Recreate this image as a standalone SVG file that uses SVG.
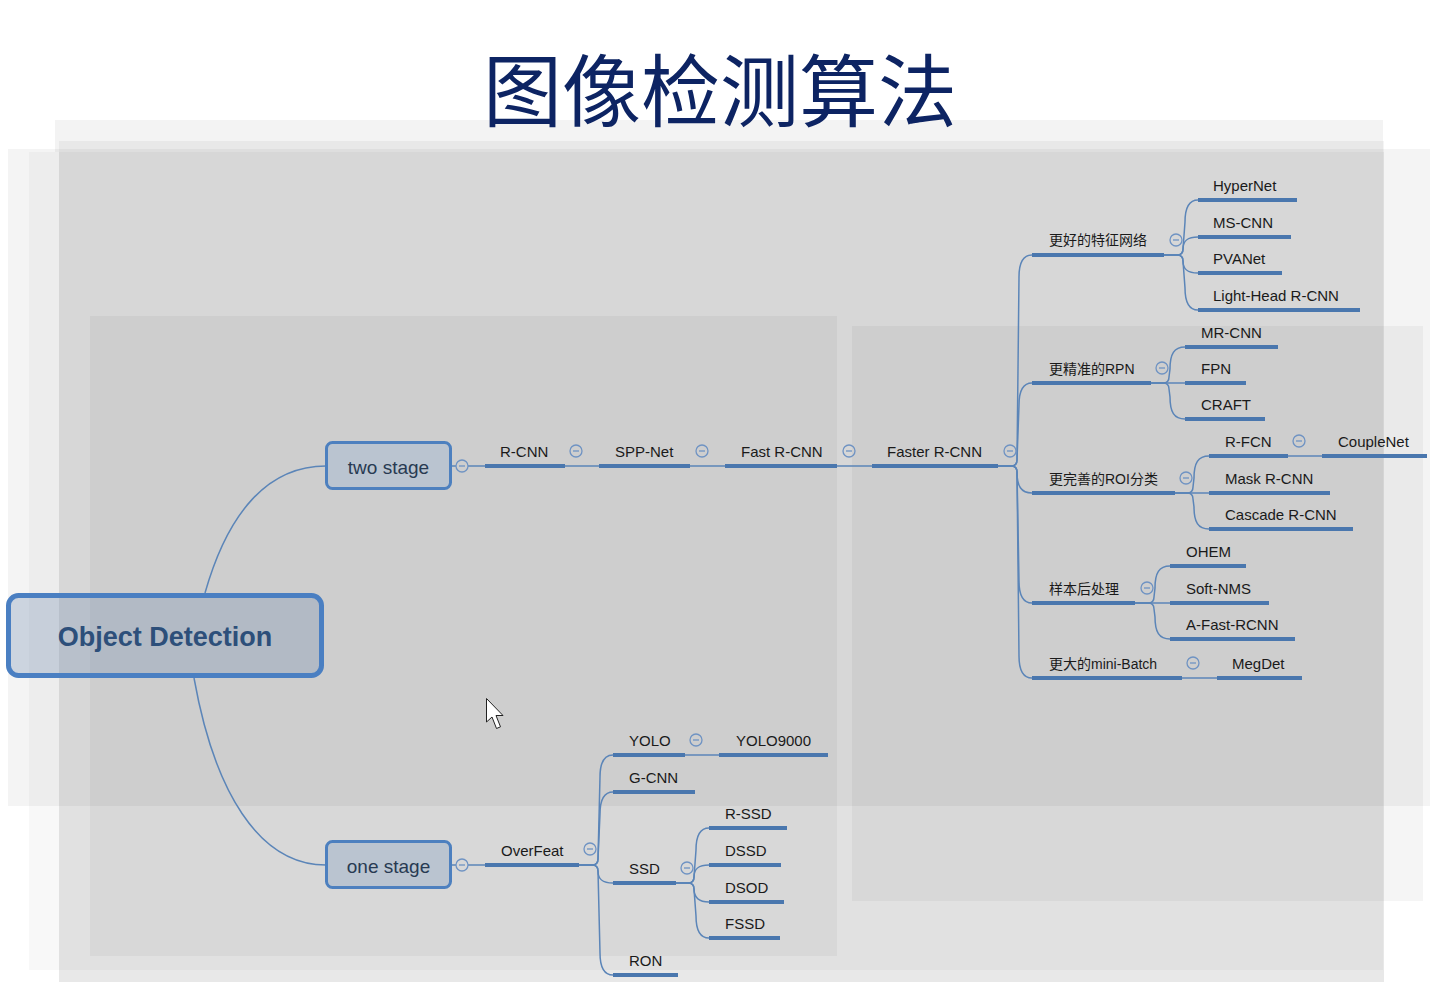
<svg xmlns="http://www.w3.org/2000/svg" width="1430" height="982" viewBox="0 0 1430 982">
<style>
.lbl{font-family:"Liberation Sans","Noto Sans CJK SC",sans-serif;font-size:15px;fill:#1a1a1a}
.cjk{font-size:14px}
.ul{stroke:#4a77ae;stroke-width:4;fill:none}
.ln{stroke:#5b85b8;stroke-width:1.5;fill:none}
.cb circle{fill:none;stroke:#6f93c3;stroke-width:1.3}
.cb line{stroke:#6f93c3;stroke-width:1.3}
.box{stroke:#4d80bf;stroke-width:3;fill:#bac4d0}
.boxt{font-family:"Liberation Sans","Noto Sans",sans-serif;font-size:19px;fill:#283a52}
.bg{fill:#000}
</style>
<rect width="1430" height="982" fill="#ffffff"/>
<g id="background">
<rect class="bg" x="55" y="120" width="1328" height="32" fill-opacity="0.047"/>
<rect class="bg" x="59" y="141" width="1325" height="11" fill-opacity="0.045"/>
<rect class="bg" x="59" y="152" width="1325" height="830" fill-opacity="0.09"/>
<rect class="bg" x="8" y="149" width="1422" height="657" fill-opacity="0.042"/>
<rect class="bg" x="29" y="152" width="1354" height="818" fill-opacity="0.026"/>
<rect class="bg" x="90" y="316" width="747" height="640" fill-opacity="0.04"/>
<rect class="bg" x="852" y="326" width="571" height="575" fill-opacity="0.04"/>
</g>
<text id="title" x="720" y="121" text-anchor="middle" font-family="Noto Sans CJK SC, sans-serif" font-size="79" fill="#0d2463">图像检测算法</text>
<g id="connectors">
<path class="ln" d="M205,593 C228,512 268,466 326,466"/>
<path class="ln" d="M194,678 C214,790 258,865 326,865"/>
<path class="ln" d="M452,466 L456,466 M468,466 L485,466"/>
<path class="ln" d="M565,466 L599,466 M690,466 L725,466 M837,466 L872,466"/>
<path class="ln" d="M998,466 H1011 Q1017,466 1017,460 L1019,277 C1019,262.7 1022.9,255 1032,255"/>
<path class="ln" d="M998,466 H1011 Q1017,466 1017,460 L1019,405 C1019,390.7 1022.9,383 1032,383"/>
<path class="ln" d="M998,466 H1011 Q1017,466 1017,472 C1017,486 1021,493 1032,493"/>
<path class="ln" d="M998,466 H1011 Q1017,466 1017,472 L1019,581 C1019,595.3 1022.9,603 1032,603"/>
<path class="ln" d="M998,466 H1011 Q1017,466 1017,472 L1019,656 C1019,670.3 1022.9,678 1032,678"/>
<path class="ln" d="M1164,255 H1177 Q1183,255 1183,249 L1185,222 C1185,207.7 1189,200 1198,200"/>
<path class="ln" d="M1164,255 H1177 Q1183,255 1183,249 C1183,241 1187,237 1198,237"/>
<path class="ln" d="M1164,255 H1177 Q1183,255 1183,261 C1183,269 1187,273 1198,273"/>
<path class="ln" d="M1164,255 H1177 Q1183,255 1183,261 L1185,288 C1185,302.3 1189,310 1198,310"/>
<path class="ln" d="M1151,383 H1163 Q1169,383 1169,377 L1170,369 C1170,354 1174,347 1185,347"/>
<path class="ln" d="M1151,383 L1185,383"/>
<path class="ln" d="M1151,383 H1163 Q1169,383 1169,389 L1170,397 C1170,412 1174,419 1185,419"/>
<path class="ln" d="M1175,493 H1187 Q1193,493 1193,487 L1194,478 C1194,463 1198,456 1209,456"/>
<path class="ln" d="M1175,493 L1209,493"/>
<path class="ln" d="M1175,493 H1187 Q1193,493 1193,499 L1194,507 C1194,522 1198,529 1209,529"/>
<path class="ln" d="M1288,456 L1322,456"/>
<path class="ln" d="M1135,603 H1148 Q1154,603 1154,597 L1155,588 C1155,573 1159,566 1170,566"/>
<path class="ln" d="M1135,603 L1170,603"/>
<path class="ln" d="M1135,603 H1148 Q1154,603 1154,609 L1155,617 C1155,632 1159,639 1170,639"/>
<path class="ln" d="M1182,678 L1217,678"/>
<path class="ln" d="M452,865 L456,865 M468,865 L485,865"/>
<path class="ln" d="M579,865 H592 Q598,865 598,859 L600,777 C600,762.7 604,755 613,755"/>
<path class="ln" d="M579,865 H592 Q598,865 598,859 L600,814 C600,799.7 604,792 613,792"/>
<path class="ln" d="M579,865 H592 Q598,865 598,871 C598,879 602,883 613,883"/>
<path class="ln" d="M579,865 H592 Q598,865 598,871 L600,953 C600,967.3 604,975 613,975"/>
<path class="ln" d="M685,755 L719,755"/>
<path class="ln" d="M676,883 H688 Q694,883 694,877 L696,850 C696,835.7 700,828 709,828"/>
<path class="ln" d="M676,883 H688 Q694,883 694,877 C694,869 698,865 709,865"/>
<path class="ln" d="M676,883 H688 Q694,883 694,889 C694,897 698,902 709,902"/>
<path class="ln" d="M676,883 H688 Q694,883 694,889 L696,916 C696,930.3 700,938 709,938"/>
</g>
<g id="root">
<rect x="8.5" y="595.5" width="313" height="80" rx="10" fill="#748eb2" fill-opacity="0.31" stroke="#4a7fc2" stroke-width="5"/>
<text x="165" y="646" text-anchor="middle" font-family="Liberation Sans, sans-serif" font-weight="bold" font-size="27" fill="#2d4f7a">Object Detection</text>
</g>
<g id="two-stage">
<rect class="box" x="326.5" y="442.5" width="124" height="46" rx="6"/>
<text class="boxt" x="388.5" y="474" text-anchor="middle">two stage</text>
<g class="cb"><circle cx="462" cy="466" r="6"/><line x1="459" y1="466" x2="465" y2="466"/></g>
</g>
<g id="one-stage">
<rect class="box" x="326.5" y="841.5" width="124" height="46" rx="6"/>
<text class="boxt" x="388.5" y="873" text-anchor="middle">one stage</text>
<g class="cb"><circle cx="462" cy="865" r="6"/><line x1="459" y1="865" x2="465" y2="865"/></g>
</g>
<g id="n-rcnn"><text class="lbl" x="500" y="457">R-CNN</text><line class="ul" x1="485" y1="466" x2="565" y2="466"/><g class="cb"><circle cx="576" cy="451" r="6"/><line x1="573" y1="451" x2="579" y2="451"/></g></g>
<g id="n-spp"><text class="lbl" x="615" y="457">SPP-Net</text><line class="ul" x1="599" y1="466" x2="690" y2="466"/><g class="cb"><circle cx="702" cy="451" r="6"/><line x1="699" y1="451" x2="705" y2="451"/></g></g>
<g id="n-fast"><text class="lbl" x="741" y="457">Fast R-CNN</text><line class="ul" x1="725" y1="466" x2="837" y2="466"/><g class="cb"><circle cx="849" cy="451" r="6"/><line x1="846" y1="451" x2="852" y2="451"/></g></g>
<g id="n-faster"><text class="lbl" x="887" y="457">Faster R-CNN</text><line class="ul" x1="872" y1="466" x2="998" y2="466"/><g class="cb"><circle cx="1010" cy="451" r="6"/><line x1="1007" y1="451" x2="1013" y2="451"/></g></g>
<g id="n-feat"><text class="lbl cjk" x="1049" y="245">更好的特征网络</text><line class="ul" x1="1032" y1="255" x2="1164" y2="255"/><g class="cb"><circle cx="1176" cy="240" r="6"/><line x1="1173" y1="240" x2="1179" y2="240"/></g></g>
<g id="n-hyper"><text class="lbl" x="1213" y="191">HyperNet</text><line class="ul" x1="1198" y1="200" x2="1297" y2="200"/></g>
<g id="n-mscnn"><text class="lbl" x="1213" y="228">MS-CNN</text><line class="ul" x1="1198" y1="237" x2="1291" y2="237"/></g>
<g id="n-pva"><text class="lbl" x="1213" y="264">PVANet</text><line class="ul" x1="1198" y1="273" x2="1282" y2="273"/></g>
<g id="n-light"><text class="lbl" x="1213" y="301">Light-Head R-CNN</text><line class="ul" x1="1198" y1="310" x2="1360" y2="310"/></g>
<g id="n-rpn"><text class="lbl cjk" x="1049" y="374">更精准的RPN</text><line class="ul" x1="1032" y1="383" x2="1151" y2="383"/><g class="cb"><circle cx="1162" cy="368" r="6"/><line x1="1159" y1="368" x2="1165" y2="368"/></g></g>
<g id="n-mrcnn"><text class="lbl" x="1201" y="338">MR-CNN</text><line class="ul" x1="1185" y1="347" x2="1278" y2="347"/></g>
<g id="n-fpn"><text class="lbl" x="1201" y="374">FPN</text><line class="ul" x1="1185" y1="383" x2="1246" y2="383"/></g>
<g id="n-craft"><text class="lbl" x="1201" y="410">CRAFT</text><line class="ul" x1="1185" y1="419" x2="1265" y2="419"/></g>
<g id="n-roi"><text class="lbl cjk" x="1049" y="484">更完善的ROI分类</text><line class="ul" x1="1032" y1="493" x2="1175" y2="493"/><g class="cb"><circle cx="1186" cy="478" r="6"/><line x1="1183" y1="478" x2="1189" y2="478"/></g></g>
<g id="n-rfcn"><text class="lbl" x="1225" y="447">R-FCN</text><line class="ul" x1="1209" y1="456" x2="1288" y2="456"/><g class="cb"><circle cx="1299" cy="441" r="6"/><line x1="1296" y1="441" x2="1302" y2="441"/></g></g>
<g id="n-couple"><text class="lbl" x="1338" y="447">CoupleNet</text><line class="ul" x1="1322" y1="456" x2="1427" y2="456"/></g>
<g id="n-mask"><text class="lbl" x="1225" y="484">Mask R-CNN</text><line class="ul" x1="1209" y1="493" x2="1330" y2="493"/></g>
<g id="n-cascade"><text class="lbl" x="1225" y="520">Cascade R-CNN</text><line class="ul" x1="1209" y1="529" x2="1353" y2="529"/></g>
<g id="n-post"><text class="lbl cjk" x="1049" y="594">样本后处理</text><line class="ul" x1="1032" y1="603" x2="1135" y2="603"/><g class="cb"><circle cx="1147" cy="588" r="6"/><line x1="1144" y1="588" x2="1150" y2="588"/></g></g>
<g id="n-ohem"><text class="lbl" x="1186" y="557">OHEM</text><line class="ul" x1="1170" y1="566" x2="1246" y2="566"/></g>
<g id="n-softnms"><text class="lbl" x="1186" y="594">Soft-NMS</text><line class="ul" x1="1170" y1="603" x2="1269" y2="603"/></g>
<g id="n-afast"><text class="lbl" x="1186" y="630">A-Fast-RCNN</text><line class="ul" x1="1170" y1="639" x2="1295" y2="639"/></g>
<g id="n-batch"><text class="lbl cjk" x="1049" y="669">更大的mini-Batch</text><line class="ul" x1="1032" y1="678" x2="1182" y2="678"/><g class="cb"><circle cx="1193" cy="663" r="6"/><line x1="1190" y1="663" x2="1196" y2="663"/></g></g>
<g id="n-megdet"><text class="lbl" x="1232" y="669">MegDet</text><line class="ul" x1="1217" y1="678" x2="1302" y2="678"/></g>
<g id="n-overfeat"><text class="lbl" x="501" y="856">OverFeat</text><line class="ul" x1="485" y1="865" x2="579" y2="865"/><g class="cb"><circle cx="590" cy="849" r="6"/><line x1="587" y1="849" x2="593" y2="849"/></g></g>
<g id="n-yolo"><text class="lbl" x="629" y="746">YOLO</text><line class="ul" x1="613" y1="755" x2="685" y2="755"/><g class="cb"><circle cx="696" cy="740" r="6"/><line x1="693" y1="740" x2="699" y2="740"/></g></g>
<g id="n-yolo9000"><text class="lbl" x="736" y="746">YOLO9000</text><line class="ul" x1="719" y1="755" x2="828" y2="755"/></g>
<g id="n-gcnn"><text class="lbl" x="629" y="783">G-CNN</text><line class="ul" x1="613" y1="792" x2="695" y2="792"/></g>
<g id="n-ssd"><text class="lbl" x="629" y="874">SSD</text><line class="ul" x1="613" y1="883" x2="676" y2="883"/><g class="cb"><circle cx="687" cy="868" r="6"/><line x1="684" y1="868" x2="690" y2="868"/></g></g>
<g id="n-rssd"><text class="lbl" x="725" y="819">R-SSD</text><line class="ul" x1="709" y1="828" x2="787" y2="828"/></g>
<g id="n-dssd"><text class="lbl" x="725" y="856">DSSD</text><line class="ul" x1="709" y1="865" x2="781" y2="865"/></g>
<g id="n-dsod"><text class="lbl" x="725" y="893">DSOD</text><line class="ul" x1="709" y1="902" x2="784" y2="902"/></g>
<g id="n-fssd"><text class="lbl" x="725" y="929">FSSD</text><line class="ul" x1="709" y1="938" x2="780" y2="938"/></g>
<g id="n-ron"><text class="lbl" x="629" y="966">RON</text><line class="ul" x1="613" y1="975" x2="678" y2="975"/></g>
<path id="cursor" d="M486.5,698.5 L486.5,722 L492,717 L496.5,728.5 L500.5,726.8 L496,715.5 L503,715.5 Z" fill="#ffffff" stroke="#222222" stroke-width="1"/>
</svg>
